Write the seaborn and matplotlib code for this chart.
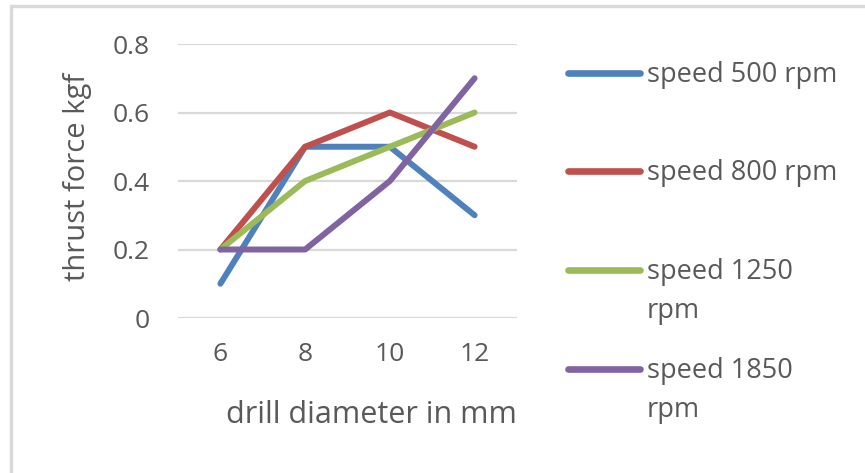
import matplotlib
matplotlib.use("Agg")
import matplotlib.pyplot as plt
from matplotlib.lines import Line2D
from matplotlib.patches import Rectangle
import seaborn as sns
import pandas as pd

diameters = ["6", "8", "10", "12"]
series_names = ["speed 500 rpm", "speed 800 rpm", "speed 1250 rpm", "speed 1850 rpm"]
legend_labels = ["speed 500 rpm", "speed 800 rpm", "speed 1250\nrpm", "speed 1850\nrpm"]
speed_500 = [0.1, 0.5, 0.5, 0.3]
speed_800 = [0.2, 0.5, 0.6, 0.5]
speed_1250 = [0.2, 0.4, 0.5, 0.6]
speed_1850 = [0.2, 0.2, 0.4, 0.7]
y_ticks = [0, 0.2, 0.4, 0.6, 0.8]
y_tick_labels = ["0", "0.2", "0.4", "0.6", "0.8"]
colors = ["#4F81BD", "#C0504D", "#9BBB59", "#8064A2"]

rows = []
for name, vals in zip(series_names, [speed_500, speed_800, speed_1250, speed_1850]):
    for d, v in zip(diameters, vals):
        rows.append({"diameter": d, "force": v, "speed": name})
df = pd.DataFrame(rows)

sns.set_style("white")
plt.rcParams["font.family"] = ["Open Sans", "DejaVu Sans"]
text_color = "#595959"

fig = plt.figure(figsize=(8.65, 4.73), dpi=100)
W, H = 865, 473
ax = fig.add_axes([178 / W, 1 - 318 / H, (517 - 178) / W, (318 - 44) / H])

sns.lineplot(data=df, x="diameter", y="force", hue="speed", hue_order=series_names,
             palette=colors, linewidth=4.3, legend=False, ax=ax, sort=False,
             solid_capstyle="round", solid_joinstyle="round", clip_on=False, zorder=3)

ax.set_xlim(-0.5, len(diameters) - 0.5)
ax.set_ylim(0, 0.8)
ax.set_yticks(y_ticks)
ax.set_yticklabels(y_tick_labels)
ax.yaxis.grid(True, color="#D9D9D9", linewidth=1.6)
ax.xaxis.grid(False)
for s in ax.spines.values():
    s.set_visible(False)
ax.tick_params(axis="both", length=0, labelsize=19, labelcolor=text_color)
ax.tick_params(axis="y", pad=20)
ax.tick_params(axis="x", pad=17)
ax.set_xlabel("drill diameter in mm", fontsize=22, color=text_color)
ax.set_ylabel("thrust force kgf", fontsize=21, color=text_color)
ax.xaxis.set_label_coords((371 - 178) / (517 - 178), -(415 - 318) / (318 - 44))
ax.xaxis.label.set_va("center")
ax.yaxis.set_label_coords(-(178 - 78) / (517 - 178), (318 - 177) / (318 - 44))
ax.yaxis.label.set_va("center")

# Border (top and left edges visible)
fig.add_artist(Rectangle((11 / W, -0.05), 1.0, 1 - 6 / H + 0.05, transform=fig.transFigure,
                         fill=False, edgecolor="#D9D9D9", linewidth=2.4))

# Legend
leg_y = [73, 171, 270, 369]
for lab, c, yy in zip(legend_labels, colors, leg_y):
    fig.add_artist(Line2D([568 / W, 640 / W], [1 - yy / H, 1 - yy / H], color=c,
                          linewidth=4.8, solid_capstyle="round", transform=fig.transFigure))
    for i, line in enumerate(lab.split("\n")):
        fig.text(647 / W, 1 - (yy + 9 + 39 * i) / H, line, fontsize=19.5, color=text_color,
                 va="baseline", ha="left")

fig.savefig("out.png", dpi=100)
